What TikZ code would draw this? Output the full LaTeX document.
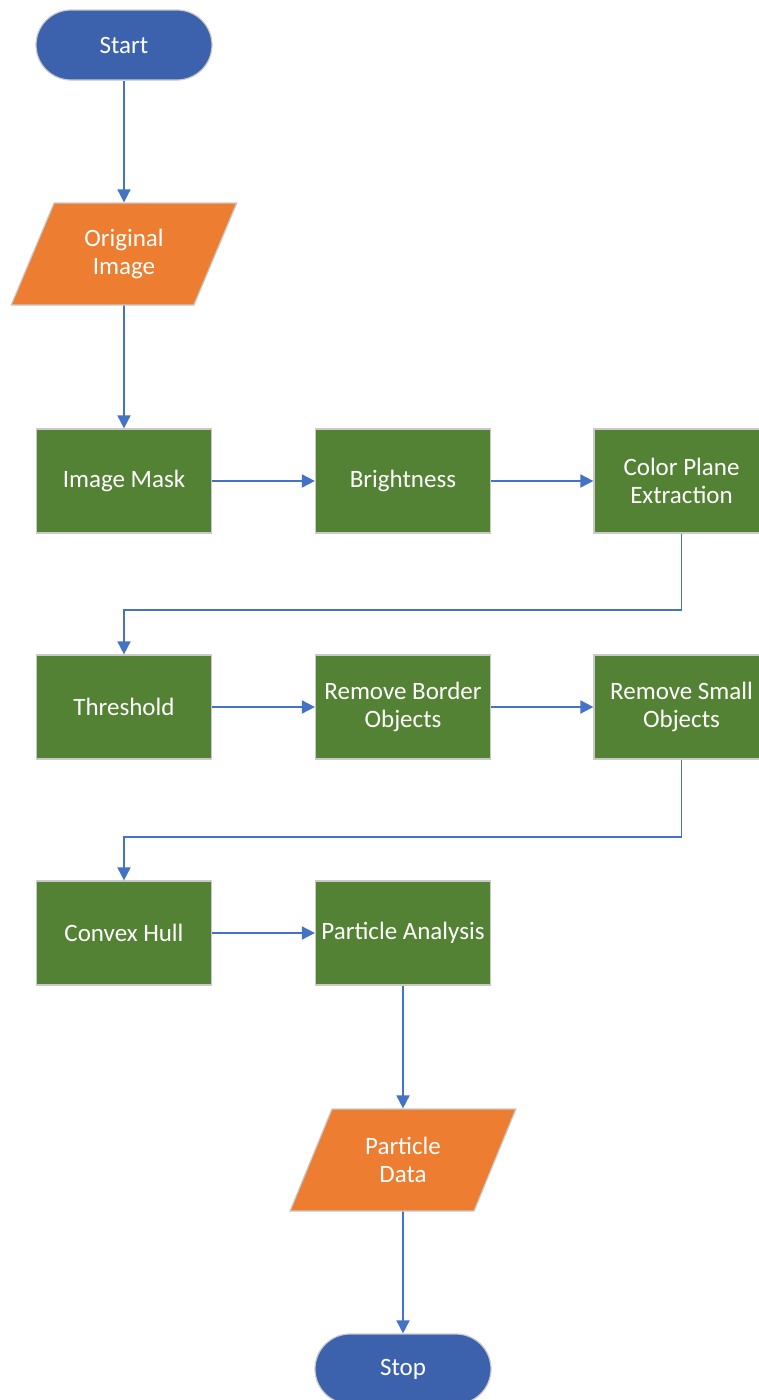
\documentclass[tikz,border=0pt]{standalone}
\usepackage{fontspec}
\setmainfont{Carlito}
\usetikzlibrary{arrows.meta,shapes.geometric}
\definecolor{termblue}{HTML}{3D62AD}
\definecolor{ioorange}{HTML}{ED7D31}
\definecolor{procgreen}{HTML}{548235}
\definecolor{linkblue}{HTML}{4472C4}
\definecolor{boxedge}{HTML}{C9C9C9}
\begin{document}
\begin{tikzpicture}[x=1pt,y=1pt,
  base/.style={text=white, font=\fontsize{25}{28}\selectfont, align=center,
    draw=boxedge, line width=1.2pt, inner sep=0pt},
  terminal/.style={base, fill=termblue, minimum width=176pt, minimum height=70pt,
    rounded corners=35pt},
  iobox/.style={base, fill=ioorange, trapezium, trapezium left angle=63.9,
    trapezium right angle=116.1, minimum height=102pt, minimum width=226pt,
    trapezium stretches=true},
  procbox/.style={base, fill=procgreen, minimum width=175pt, minimum height=104pt},
  flow/.style={draw=linkblue, line width=1.8pt, -{Triangle[length=13pt,width=13pt]}}
]
\useasboundingbox (0,0) rectangle (759,-1400);
\clip (0,0) rectangle (759,-1400);

% terminals and data
\node[terminal] (start) at (124,-45) {Start};
\node[iobox] (orig) at (124,-254) {Original\\Image};

% processing steps, three rows
\node[procbox] (mask)    at (124,-481)   {Image Mask};
\node[procbox] (bright)  at (403,-481)   {Brightness};
\node[procbox] (cpe)     at (681.5,-481) {Color Plane\\Extraction};
\node[procbox] (thr)     at (124,-707)   {Threshold};
\node[procbox] (rborder) at (403,-707)   {Remove Border\\Objects};
\node[procbox] (rsmall)  at (681.5,-707) {Remove Small\\Objects};
\node[procbox] (hull)    at (124,-933) {Convex Hull};
\node[procbox] (pa)      at (403,-933) {Particle Analysis};

\node[iobox] (pdata) at (403,-1160) {Particle\\Data};
\node[terminal] (stop) at (403,-1369) {Stop};

% bend points of the row-to-row links
\coordinate (bendA) at (681.5,-610);
\coordinate (bendB) at (681.5,-837);

% connectors
\draw[flow] (start) -- (orig);
\draw[flow] (orig) -- (mask);
\draw[flow] (mask) -- (bright);
\draw[flow] (bright) -- (cpe);
\draw[flow] (cpe.south) -- (bendA) -| (thr.north);
\draw[flow] (thr) -- (rborder);
\draw[flow] (rborder) -- (rsmall);
\draw[flow] (rsmall.south) -- (bendB) -| (hull.north);
\draw[flow] (hull) -- (pa);
\draw[flow] (pa) -- (pdata);
\draw[flow] (pdata) -- (stop);
\end{tikzpicture}
\end{document}
